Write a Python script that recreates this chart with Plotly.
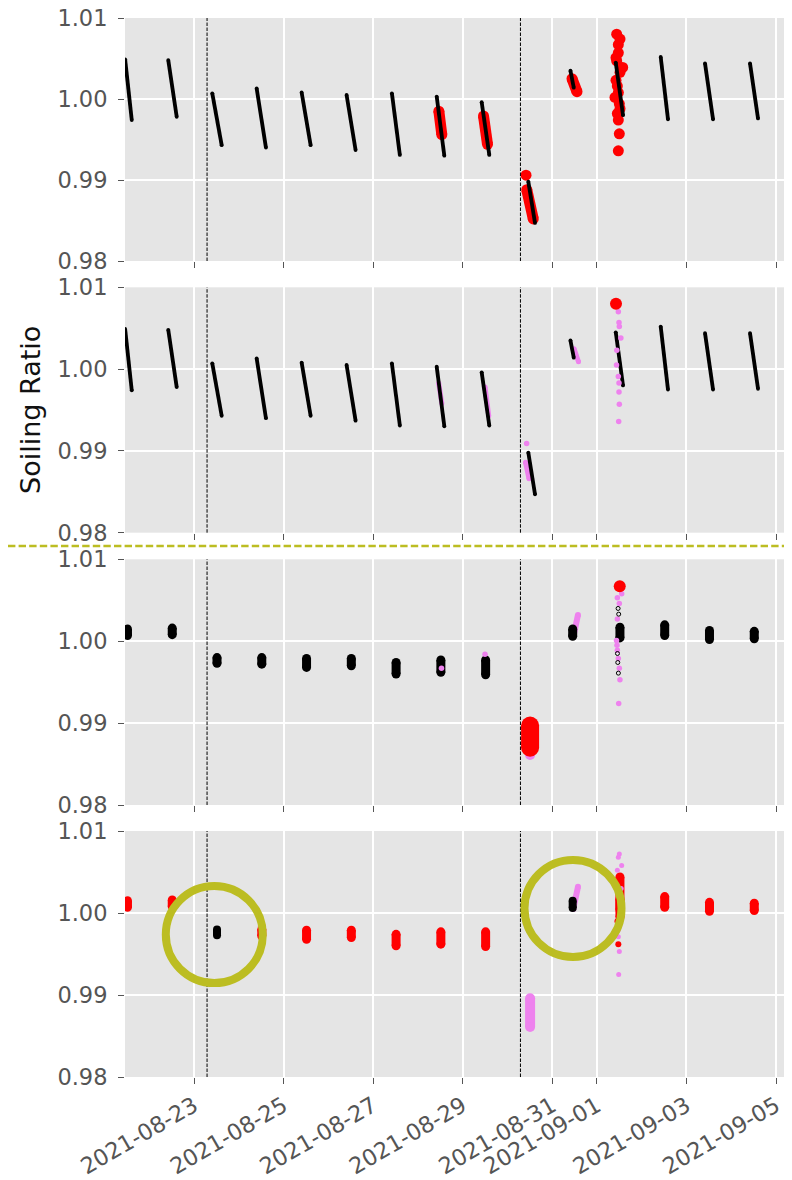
import plotly.graph_objects as go

# ---------------- data ----------------
DAYS = ["2021-08-21", "2021-08-22", "2021-08-23", "2021-08-24", "2021-08-25",
        "2021-08-26", "2021-08-27", "2021-08-28", "2021-08-29", "2021-08-30",
        "2021-08-31", "2021-09-01", "2021-09-02", "2021-09-03", "2021-09-04"]

# raw soiling ratio: first / last reading of each daily cluster
RAW_T0 = ["11:05", "10:12", "09:48", "09:36", "09:42", "09:48", "10:05", "10:06",
          "10:13", "11:13", "09:48", "10:05", "10:11", "09:56", "10:03"]
RAW_T1 = ["14:38", "14:44", "14:50", "14:34", "14:31", "14:37", "14:21", "14:11",
          "14:18", "14:48", "11:34", "13:59", "14:05", "14:14", "14:21"]
RAW_V0 = [1.0049, 1.0048, 1.0007, 1.0013, 1.0008, 1.0005, 1.0007, 1.0003,
          0.9996, 0.9898, 1.0035, 1.0045, 1.0052, 1.0044, 1.0044]
RAW_V1 = [0.9974, 0.9978, 0.9943, 0.9940, 0.9943, 0.9937, 0.9931, 0.9930,
          0.9931, 0.9847, 1.0014, 0.9980, 0.9975, 0.9975, 0.9976]

# corrected soiling ratio: daily cluster extent (upper / lower)
CORR_T = ["12:20", "12:20", "12:20", "12:20", "12:20", "12:20", "12:20", "12:20",
          "12:20", "12:10", "11:00", "12:20", "12:20", "12:20", "12:20"]
CORR_TOP = [1.0015, 1.0016, 0.9980, 0.9980, 0.9979, 0.9979, 0.9974, 0.9977,
            0.9977, 0.9896, 1.0015, 1.0017, 1.0020, 1.0013, 1.0012]
CORR_BOT = [1.0007, 1.0008, 0.9973, 0.9972, 0.9968, 0.9970, 0.9960, 0.9962,
            0.9959, 0.9861, 1.0006, 1.0004, 1.0007, 1.0002, 1.0003]
P3_COLOR = ["black"] * 9 + ["violet"] + ["black"] * 5
P4_COLOR = ["red", "red", "black", "red", "red", "red", "red", "red", "red",
            "violet", "black", "red", "red", "red", "red"]

# panel 1: large red flagged points
F1_SEG_T0 = ["2021-08-28 11:15", "2021-08-29 11:12", "2021-08-30 10:23", "2021-08-31 10:38"]
F1_SEG_T1 = ["2021-08-28 12:51", "2021-08-29 13:20", "2021-08-30 13:52", "2021-08-31 13:19"]
F1_SEG_V0 = [0.9985, 0.9979, 0.9888, 1.0025]
F1_SEG_V1 = [0.9956, 0.9944, 0.9852, 1.0009]
F1_PT_T = ["2021-08-30 09:59",
           "2021-09-01 10:35", "2021-09-01 12:22", "2021-09-01 11:28", "2021-09-01 11:28",
           "2021-09-01 10:13", "2021-09-01 10:35", "2021-09-01 13:48", "2021-09-01 12:22",
           "2021-09-01 10:13", "2021-09-01 10:56", "2021-09-01 11:28", "2021-09-01 09:41",
           "2021-09-01 12:00", "2021-09-01 12:22", "2021-09-01 10:56", "2021-09-01 11:28",
           "2021-09-01 12:00", "2021-09-01 11:28"]
F1_PT_V = [0.9906,
           1.0080, 1.0074, 1.0067, 1.0057, 1.0051, 1.0047, 1.0039, 1.0033, 1.0023,
           1.0016, 1.0008, 1.0002, 0.9994, 0.9988, 0.9982, 0.9974, 0.9957, 0.9936]

# panel 2: violet flagged points and one red point
V2_SEG_T0 = ["2021-08-28 11:10", "2021-08-29 12:00", "2021-08-30 09:43", "2021-08-31 11:42"]
V2_SEG_T1 = ["2021-08-28 12:50", "2021-08-29 14:00", "2021-08-30 11:35", "2021-08-31 14:07"]
V2_SEG_V0 = [0.9983, 0.9978, 0.9886, 1.0025]
V2_SEG_V1 = [0.9958, 0.9943, 0.9866, 1.0009]
V2_PT_T = ["2021-08-30 10:19", "2021-09-01 11:28", "2021-09-01 11:50", "2021-09-01 12:00",
           "2021-09-01 12:50", "2021-09-01 10:40", "2021-09-01 10:29", "2021-09-01 11:28",
           "2021-09-01 11:50", "2021-09-01 11:50", "2021-09-01 12:00", "2021-09-01 11:40"]
V2_PT_V = [0.9909, 1.0070, 1.0057, 1.0052, 1.0038, 1.0023, 1.0005, 0.9991,
           0.9983, 0.9972, 0.9957, 0.9936]
R2_PT_T = ["2021-09-01 10:13"]
R2_PT_V = [1.0080]

# panels 3/4: violet tail at 2021-08-31
TAIL_T0 = ["2021-08-31 11:20"]
TAIL_T1 = ["2021-08-31 13:50"]
TAIL_V0 = [1.0005]
TAIL_V1 = [1.0032]

# panel 3: extra points
R3_SEG_T = ["2021-08-30 12:10"]
R3_SEG_V0 = [0.9897]
R3_SEG_V1 = [0.9870]
V3_PT_T = ["2021-08-29 12:00", "2021-08-28 12:40", "2021-09-01 13:16", "2021-09-01 10:57",
           "2021-09-01 12:00", "2021-09-01 10:57", "2021-09-01 10:29", "2021-09-01 10:45",
           "2021-09-01 10:57", "2021-09-01 11:28", "2021-09-01 12:00", "2021-09-01 12:20",
           "2021-09-01 11:40"]
V3_PT_V = [0.9984, 0.9967, 1.0058, 1.0053, 1.0046, 1.0027, 1.0001, 0.9995, 0.9989,
           0.9979, 0.9967, 0.9953, 0.9924]
K3_PT_T = ["2021-09-01 11:20", "2021-09-01 11:40", "2021-09-01 11:00", "2021-09-01 11:10",
           "2021-09-01 11:30"]
K3_PT_V = [1.0040, 1.0033, 0.9985, 0.9974, 0.9961]
R3_PT_T = ["2021-09-01 12:13"]
R3_PT_V = [1.0067]

# panel 4: extra points
R4_SEG_T = ["2021-09-01 12:20"]
R4_SEG_V0 = [1.0044]
R4_SEG_V1 = [0.9995]
R4_PT_T = ["2021-09-01 11:28", "2021-09-01 11:00"]
R4_PT_V = [0.9962, 0.9990]
V4_PT_T = ["2021-09-01 12:00", "2021-09-01 11:28", "2021-09-01 13:16", "2021-09-01 10:57",
           "2021-09-01 11:20", "2021-09-01 11:28", "2021-09-01 12:00", "2021-09-01 11:40",
           "2021-09-01 13:00", "2021-09-01 13:00"]
V4_PT_V = [1.0072, 1.0068, 1.0058, 1.0052, 0.9979, 0.9971, 0.9953, 0.9925, 1.0030, 1.0010]

# reference lines and highlights
VLINES = ["2021-08-23 07:00", "2021-08-30 07:00"]
CIRCLE_T = ["2021-08-23 10:53", "2021-08-31 11:10"]
CIRCLE_V = [0.99737, 1.00056]

XRANGE = ["2021-08-21 11:00:40", "2021-09-05 08:34"]
XTICKS = ["2021-08-23", "2021-08-25", "2021-08-27", "2021-08-29", "2021-08-31",
          "2021-09-01", "2021-09-03", "2021-09-05"]
YTICKS = [0.98, 0.99, 1.00, 1.01]

# ---------------- figure ----------------
RED = "#ff0000"
VIOLET = "#ee82ee"
OLIVE = "#bcbd22"
COLORS = {"red": RED, "violet": VIOLET, "black": "#000000"}
FONT = "DejaVu Sans"

fig = go.Figure()


def ax(k):
    return ("x" if k == 1 else f"x{k}"), ("y" if k == 1 else f"y{k}")


def segs(k, t0, v0, t1, v1, color, width, opacity=1.0):
    xs, ys = [], []
    for a, b, c, d in zip(t0, v0, t1, v1):
        xs += [a, c, None]
        ys += [b, d, None]
    xa, ya = ax(k)
    fig.add_trace(go.Scatter(x=xs, y=ys, xaxis=xa, yaxis=ya, mode="lines+markers",
                             line=dict(color=color, width=width),
                             marker=dict(color=color, size=width, line=dict(width=0)),
                             opacity=opacity, showlegend=False, hoverinfo="skip"))


def pts(k, t, v, color, size, open_=False):
    xa, ya = ax(k)
    if open_:
        mk = dict(color="rgba(0,0,0,0)", size=size, line=dict(color=color, width=1))
    else:
        mk = dict(color=color, size=size, line=dict(width=0))
    fig.add_trace(go.Scatter(x=t, y=v, xaxis=xa, yaxis=ya, mode="markers", marker=mk,
                             showlegend=False, hoverinfo="skip"))


raw_t0 = [f"{d} {t}" for d, t in zip(DAYS, RAW_T0)]
raw_t1 = [f"{d} {t}" for d, t in zip(DAYS, RAW_T1)]
corr_t = [f"{d} {t}" for d, t in zip(DAYS, CORR_T)]

# panel 1
segs(1, F1_SEG_T0, F1_SEG_V0, F1_SEG_T1, F1_SEG_V1, RED, 11)
pts(1, F1_PT_T, F1_PT_V, RED, 11)
segs(1, raw_t0, RAW_V0, raw_t1, RAW_V1, "black", 3.8)

# panel 2
segs(2, V2_SEG_T0, V2_SEG_V0, V2_SEG_T1, V2_SEG_V1, VIOLET, 5)
segs(2, raw_t0, RAW_V0, raw_t1, RAW_V1, "black", 3.8)
pts(2, V2_PT_T, V2_PT_V, VIOLET, 5.5)
pts(2, R2_PT_T, R2_PT_V, RED, 12)

# panel 3
segs(3, TAIL_T0, TAIL_V0, TAIL_T1, TAIL_V1, VIOLET, 6)
for c in ["black", "violet"]:
    idx = [i for i, cc in enumerate(P3_COLOR) if cc == c]
    segs(3, [corr_t[i] for i in idx], [CORR_TOP[i] for i in idx],
         [corr_t[i] for i in idx], [CORR_BOT[i] for i in idx], COLORS[c], 9 if c == "black" else 10)
segs(3, R3_SEG_T, R3_SEG_V0, R3_SEG_T, R3_SEG_V1, RED, 18)
pts(3, V3_PT_T, V3_PT_V, VIOLET, 5.5)
pts(3, K3_PT_T, K3_PT_V, "#000000", 4, open_=True)
pts(3, R3_PT_T, R3_PT_V, RED, 12)

# panel 4
for c in ["red", "violet"]:
    idx = [i for i, cc in enumerate(P4_COLOR) if cc == c]
    segs(4, [corr_t[i] for i in idx], [CORR_TOP[i] for i in idx],
         [corr_t[i] for i in idx], [CORR_BOT[i] for i in idx], COLORS[c], 9 if c == "red" else 10)
segs(4, R4_SEG_T, R4_SEG_V0, R4_SEG_T, R4_SEG_V1, RED, 9)
pts(4, R4_PT_T, R4_PT_V, RED, 6)
segs(4, TAIL_T0, TAIL_V0, TAIL_T1, TAIL_V1, VIOLET, 6)
pts(4, V4_PT_T, V4_PT_V, VIOLET, 5)
idx = [i for i, cc in enumerate(P4_COLOR) if cc == "black"]
segs(4, [corr_t[i] for i in idx], [CORR_TOP[i] for i in idx],
     [corr_t[i] for i in idx], [CORR_BOT[i] for i in idx], "black", 8)

# ---------------- layout ----------------
# the page body adds an 8 px offset; the figure is sized to end at the window edge
OFF = 8
W, H = 792 - OFF, 1180 - OFF
ML, MR, MT, MB = 125 - OFF, 0, 18 - OFF, 103
PH = H - MT - MB
PW = W - ML - MR
panel_px = [(18, 261), (287.3, 532.7), (559.3, 805), (831, 1077)]


def py(px):
    """window pixel row -> paper fraction"""
    return (H - MB - (px - OFF)) / PH


layout = dict(width=W, height=H, margin=dict(l=ML, r=MR, t=MT, b=MB, autoexpand=False),
              paper_bgcolor="white", plot_bgcolor="#E5E5E5",
              font=dict(family=FONT, color="#555555"))
for k in range(1, 5):
    top, bot = panel_px[k - 1]
    dom = [max(0.0, py(bot)), min(1.0, py(top))]
    xa = "xaxis" if k == 1 else f"xaxis{k}"
    ya = "yaxis" if k == 1 else f"yaxis{k}"
    layout[xa] = dict(domain=[0, 1], anchor=ax(k)[1], type="date", range=XRANGE,
                      automargin=False, ticklabeloverflow="allow",
                      tickmode="array", tickvals=XTICKS, ticktext=XTICKS,
                      showticklabels=(k == 4), tickangle=-30,
                      ticks="outside", ticklen=6, tickwidth=1.3, tickcolor="#555555",
                      showgrid=True, gridcolor="white", gridwidth=1.6,
                      zeroline=False, showline=False,
                      tickfont=dict(family=FONT, size=22.5, color="#555555"))
    layout[ya] = dict(domain=dom, anchor=ax(k)[0], range=[0.98, 1.01],
                      automargin=False, ticklabeloverflow="allow",
                      tickmode="array", tickvals=YTICKS,
                      ticktext=[f"{v:.2f}" for v in YTICKS],
                      ticks="outside", ticklen=6, tickwidth=1.3, tickcolor="#555555",
                      ticklabelstandoff=6,
                      showgrid=True, gridcolor="white", gridwidth=1.6,
                      zeroline=False, showline=False,
                      tickfont=dict(family=FONT, size=22.5, color="#555555"))
fig.update_layout(**layout)

shapes = []
for k in range(1, 5):
    xa, ya = ax(k)
    for t in VLINES:
        shapes.append(dict(type="line", xref=xa, yref=f"{ya} domain", x0=t, x1=t, y0=0, y1=1,
                           line=dict(color="black", width=1, dash="3.5px,1.5px")))
# separator between raw and corrected panels
shapes.append(dict(type="line", xref="paper", yref="paper", x0=-ML / PW, x1=1,
                   y0=py(546), y1=py(546),
                   line=dict(color=OLIVE, width=2.5, dash="7.4px,3.2px")))
for t, v in zip(CIRCLE_T, CIRCLE_V):
    shapes.append(dict(type="circle", xref="x4", yref="y4", xsizemode="pixel", ysizemode="pixel",
                       xanchor=t, yanchor=v, x0=-48.5, x1=48.5, y0=-48.5, y1=48.5,
                       line=dict(color=OLIVE, width=8)))
fig.update_layout(shapes=shapes)

fig.add_annotation(text="Soiling Ratio", xref="paper", yref="paper",
                   x=(30 - OFF - ML) / PW, y=py(410), textangle=-90,
                   showarrow=False, xanchor="center", yanchor="middle",
                   font=dict(family=FONT, size=27, color="#111111"))

fig.write_html("out.html")
